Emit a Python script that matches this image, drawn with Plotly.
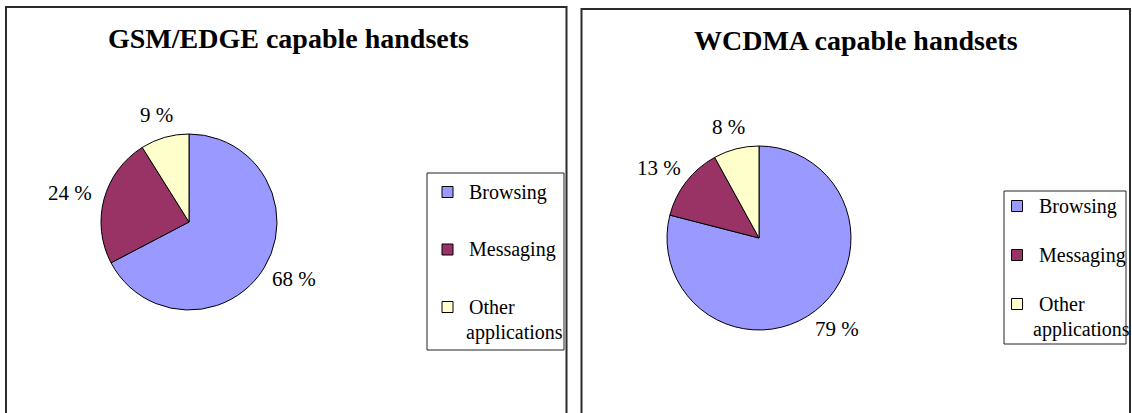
import math
import plotly.graph_objects as go

# Share of data traffic by application type, per handset class
categories = ["Browsing", "Messaging", "Other applications"]
gsm_edge_share = [68, 24, 9]
wcdma_share = [79, 13, 8]
titles = ["GSM/EDGE capable handsets", "WCDMA capable handsets"]

slice_colors = ["#9999FF", "#993366", "#FFFFCC"]

W, H = 1132, 413
SERIF = "Liberation Serif"
LABEL_SIZE = 21
LEGEND_SIZE = 20
TITLE_SIZE = 28


def px(x):
    return x / W


def py(y):
    return 1 - y / H


def text_width(s, size):
    # rough advance widths for digits, space and percent sign in a Times-like face
    adv = {" ": 0.25, "%": 0.833}
    return sum(adv.get(ch, 0.5) for ch in s) * size


# Layout of each panel, in pixels
panels = [
    dict(values=gsm_edge_share, title=titles[0],
         frame=(6, 7, 566.5), title_xy=(288, 38.5),
         center=(189, 222), radius=88,
         legend_box=(427, 173, 564, 350), marker_x=442, text_x=467, wrap_shift=-3,
         entry_y0=192, entry_step=57.5),
    dict(values=wcdma_share, title=titles[1],
         frame=(581.5, 9, 1130), title_xy=(856, 40),
         center=(759, 238), radius=92,
         legend_box=(1004, 191, 1126, 344), marker_x=1011.5, text_x=1037, wrap_shift=-6,
         entry_y0=206, entry_step=49),
]

fig = go.Figure()
shapes = []
annotations = []

for p in panels:
    cx, cy = p["center"]
    r = p["radius"]
    fig.add_trace(go.Pie(
        labels=categories,
        values=p["values"],
        sort=False,
        direction="clockwise",
        rotation=0,
        textinfo="none",
        hoverinfo="label+value",
        showlegend=False,
        marker=dict(colors=slice_colors, line=dict(color="#000000", width=1)),
        domain=dict(x=[px(cx - r), px(cx + r)], y=[py(cy + r), py(cy - r)]),
    ))

    # Percentage labels: box placed just outside the slice at its middle angle
    total = sum(p["values"])
    cum = 0
    for v in p["values"]:
        mid = (cum + v / 2) / total * 2 * math.pi
        cum += v
        dx, dy = math.sin(mid), -math.cos(mid)
        txt = f"{v} %"
        hw = text_width(txt, LABEL_SIZE) / 2
        hh = 10
        reach = r + 13
        lx = cx + reach * dx + hw * dx
        ly = cy + reach * dy + hh * dy
        annotations.append(dict(
            x=px(lx), y=py(ly), xref="paper", yref="paper",
            text=txt, showarrow=False,
            xanchor="center", yanchor="middle",
            font=dict(family=SERIF, size=LABEL_SIZE, color="#000000"),
        ))

    # Panel frame (open at the bottom edge of the page)
    x0, y0, x1 = p["frame"]
    shapes.append(dict(
        type="rect", xref="paper", yref="paper",
        x0=px(x0), x1=px(x1), y0=py(y0), y1=py(H + 20),
        line=dict(color="#2b2b2b", width=2), fillcolor="rgba(0,0,0,0)",
    ))

    # Title
    tx, ty = p["title_xy"]
    annotations.append(dict(
        x=px(tx), y=py(ty), xref="paper", yref="paper",
        text=f"<b>{p['title']}</b>", showarrow=False,
        xanchor="center", yanchor="middle",
        font=dict(family=SERIF, size=TITLE_SIZE, color="#000000"),
    ))

    # Legend box
    bx0, by0, bx1, by1 = p["legend_box"]
    shapes.append(dict(
        type="rect", xref="paper", yref="paper",
        x0=px(bx0), x1=px(bx1), y0=py(by1), y1=py(by0),
        line=dict(color="#222222", width=1), fillcolor="#FFFFFF",
    ))
    for i, (name, col) in enumerate(zip(categories, slice_colors)):
        ey = p["entry_y0"] + i * p["entry_step"]
        mx = p["marker_x"]
        shapes.append(dict(
            type="rect", xref="paper", yref="paper",
            x0=px(mx), x1=px(mx + 11), y0=py(ey + 5.5), y1=py(ey - 5.5),
            line=dict(color="#000000", width=1), fillcolor=col,
        ))
        words = name.split(" ")
        lines = [words[0]] if len(words) == 1 else [words[0], " ".join(words[1:])]
        for j, line in enumerate(lines):
            lx = p["text_x"] + (p["wrap_shift"] if j > 0 else 0)
            annotations.append(dict(
                x=px(lx), y=py(ey + j * 25), xref="paper", yref="paper",
                text=line, showarrow=False,
                xanchor="left", yanchor="middle",
                font=dict(family=SERIF, size=LEGEND_SIZE, color="#000000"),
            ))

fig.update_layout(
    width=W, height=H,
    margin=dict(l=0, r=0, t=0, b=0),
    paper_bgcolor="#FFFFFF",
    plot_bgcolor="#FFFFFF",
    shapes=shapes,
    annotations=annotations,
    showlegend=False,
)

fig.write_html("out.html")
